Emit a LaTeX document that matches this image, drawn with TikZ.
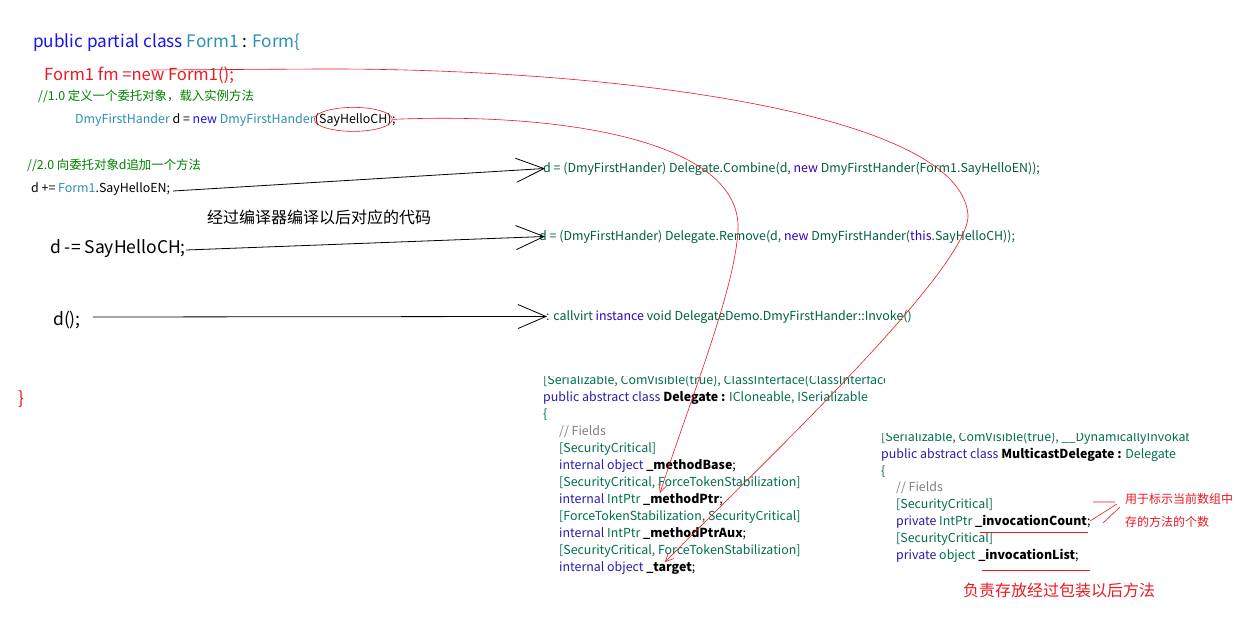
\documentclass[tikz,border=0pt]{standalone}
\usepackage{fontspec}
\setmainfont{Noto Sans CJK SC}
\usepackage{xcolor}
\usetikzlibrary{
    arrows.meta,
    calc,
    shapes.geometric,
    positioning
}
\definecolor{kwblue}{RGB}{20,20,235}
\definecolor{typeteal}{RGB}{43,145,175}
\definecolor{cmtgreen}{RGB}{0,128,0}
\definecolor{ilgreen}{RGB}{0,95,60}
\definecolor{ilblue}{RGB}{50,0,190}
\definecolor{attrteal}{RGB}{0,110,80}
\definecolor{declblue}{RGB}{40,30,170}
\definecolor{fieldgray}{RGB}{128,128,128}
\definecolor{redpen}{RGB}{235,25,35}
\newcommand{\kwd}[1]{\textcolor{kwblue}{#1}}
\newcommand{\typ}[1]{\textcolor{typeteal}{#1}}
\newcommand{\ilkw}[1]{\textcolor{ilblue}{#1}}
\newcommand{\dkw}[1]{\textcolor{declblue}{#1}}
\newcommand{\attr}[1]{\textcolor{attrteal}{#1}}

\begin{document}
\begin{tikzpicture}[x=1pt, y=-1pt,
    txt/.style={anchor=base west, inner sep=0pt, font=\fontsize{12.4}{14}\selectfont},
    bigtxt/.style={anchor=base west, inner sep=0pt, font=\fontsize{17.5}{20}\selectfont},
    compile/.style={draw=black, line width=0.8pt, -{Straight Barb[length=28pt, width=24pt]}},
    link/.style={draw=redpen, line width=0.6pt, -{Straight Barb[length=8pt, width=8pt]}},
    pen/.style={draw=redpen, line width=0.6pt}
]
\useasboundingbox[fill=white] (0, 0) rectangle (1241, 634);
% source code
\node[bigtxt, font=\fontsize{17.2}{20}\selectfont] (head) at (33, 48) {\kwd{public partial class} \typ{Form1} : \typ{Form\{}};
\node[bigtxt, font=\fontsize{16.6}{18}\selectfont, text=redpen] (fm) at (44, 81) {Form1 fm =new Form1();};
\node[txt, text=cmtgreen] (cmtA) at (38, 100) {//1.0 定义一个委托对象，载入实例方法};
\node[txt] (dmy) at (75, 123) {\typ{DmyFirstHander} d = \kwd{new} \typ{DmyFirstHander}};
\node[txt] (chArg) at (dmy.base east) {(SayHelloCH)};
\node[txt] (chEnd) at (chArg.base east) {;};
\node[pen, ellipse, minimum width=78pt, minimum height=24pt, inner sep=0pt] (chOval) at (chArg.center) {};
\node[txt, text=cmtgreen] (cmtB) at (27, 169) {//2.0 向委托对象d追加一个方法};
\node[txt] (addEN) at (31, 192) {d += \typ{Form1}.SayHelloEN;};
\node[bigtxt, font=\fontsize{16}{18}\selectfont] (note) at (207, 223) {经过编译器编译以后对应的代码};
\node[bigtxt] (subCH) at (50, 253) {d -= SayHelloCH;};
\node[bigtxt] (call) at (53, 325) {d();};
\node[bigtxt, text=redpen] (close) at (18, 404) {\}};
% compiled code
\node[txt, text=ilgreen] (combine) at (543, 172) {d = (DmyFirstHander) Delegate.Combine(d, \ilkw{new} DmyFirstHander(Form1.SayHelloEN));};
\node[txt, text=ilgreen] (remove) at (539, 240) {d = (DmyFirstHander) Delegate.Remove(d, \ilkw{new} DmyFirstHander(\ilkw{this}.SayHelloCH));};
\node[txt, text=ilgreen] (invoke) at (546, 320) {: callvirt \ilkw{instance} void DelegateDemo.DmyFirstHander::Invoke()};
\draw[compile] ($(addEN.base east)+(3, -1)$) -- ([xshift=2pt]combine.west);
\draw[compile] ($(subCH.base east)+(0, -3)$) -- ([xshift=6pt]remove.west);
\draw[compile] ($(call.base east)+(12, -8)$) -- ([xshift=1pt]invoke.west);
% class Delegate
\begin{scope}
    \clip (540, 376) rectangle (884, 392);
    \node[txt, text=attrteal] (dlgAttr) at (543, 384) {[Serializable, ComVisible(true), ClassInterface(ClassInterfaceType.None)]};
\end{scope}
\node[txt] (dlgHead) at (543, 401) {\dkw{public abstract class} \textbf{Delegate :} \attr{ICloneable, ISerializable}};
\node[txt] (dlgOpen) at (543, 418) {\attr{\{}};
\node[txt, text=fieldgray] (dlgCmt) at (559, 435) {// Fields};
\node[txt, text=attrteal] (dlgA1) at (559, 452) {[SecurityCritical]};
\node[txt] (dlgBase) at (559, 469) {\dkw{internal object} \textbf{\_methodBase};};
\node[txt, text=attrteal] (dlgA2) at (559, 486) {[SecurityCritical, ForceTokenStabilization]};
\node[txt] (dlgPtr) at (559, 503) {\dkw{internal} \attr{IntPtr} \textbf{\_methodPtr};};
\node[txt, text=attrteal] (dlgA3) at (559, 520) {[ForceTokenStabilization, SecurityCritical]};
\node[txt] (dlgAux) at (559, 537) {\dkw{internal} \attr{IntPtr} \textbf{\_methodPtrAux};};
\node[txt, text=attrteal] (dlgA4) at (559, 554) {[SecurityCritical, ForceTokenStabilization]};
\node[txt] (dlgTarget) at (559, 571) {\dkw{internal object} \textbf{\_target};};
% class MulticastDelegate
\begin{scope}
    \clip (878, 433) rectangle (1188, 449);
    \node[txt, text=attrteal] (mcdAttr) at (881, 441) {[Serializable, ComVisible(true), \_\_DynamicallyInvokable]};
\end{scope}
\node[txt] (mcdHead) at (881, 458) {\dkw{public abstract class} \textbf{MulticastDelegate :} \attr{Delegate}};
\node[txt] (mcdOpen) at (881, 475) {\attr{\{}};
\node[txt, text=fieldgray] (mcdCmt) at (896, 491) {// Fields};
\node[txt, text=attrteal] (mcdA1) at (896, 508) {[SecurityCritical]};
\node[txt] (mcdCount) at (896, 525) {\dkw{private} \attr{IntPtr} \textbf{\_invocationCount};};
\node[txt, text=attrteal] (mcdA2) at (896, 542) {[SecurityCritical]};
\node[txt] (mcdList) at (896, 559) {\dkw{private} \attr{object} \textbf{\_invocationList};};
% red notes
\node[txt, text=redpen, font=\fontsize{12}{14}\selectfont] (noteCount) at (1125, 503) {用于标示当前数组中};
\node[txt, text=redpen, font=\fontsize{12}{14}\selectfont] (noteCount2) at (1125, 526) {存的方法的个数};
\node[bigtxt, text=redpen, font=\fontsize{16}{18}\selectfont] (noteList) at (963, 596) {负责存放经过包装以后方法};
\draw[pen] ($(mcdCount.base west)+(84, 7)$) -- ($(mcdCount.base west)+(192, 7)$);
\draw[pen] ($(mcdList.base west)+(86, 11)$) -- ($(mcdList.base west)+(194, 11)$);
\draw[pen] (1093, 502) -- (1115, 502)
    (1090, 521) -- (1117, 504)
    (1103, 523) -- (1120, 507);
% red links
\coordinate (fmTop) at (150, 70);
\draw[link] (chOval.east) .. controls (560, 112) and (742, 140) .. (738, 230)
    .. controls (735, 290) and (690, 400) .. ($(dlgPtr.base west)+(101, -10)$);
\draw[link] (fmTop) -- (320, 69) .. controls (600, 68) and (960, 110) .. (968, 215)
    .. controls (970, 270) and (740, 485) .. ($(dlgTarget.base west)+(106, -9)$);
\end{tikzpicture}
\end{document}
